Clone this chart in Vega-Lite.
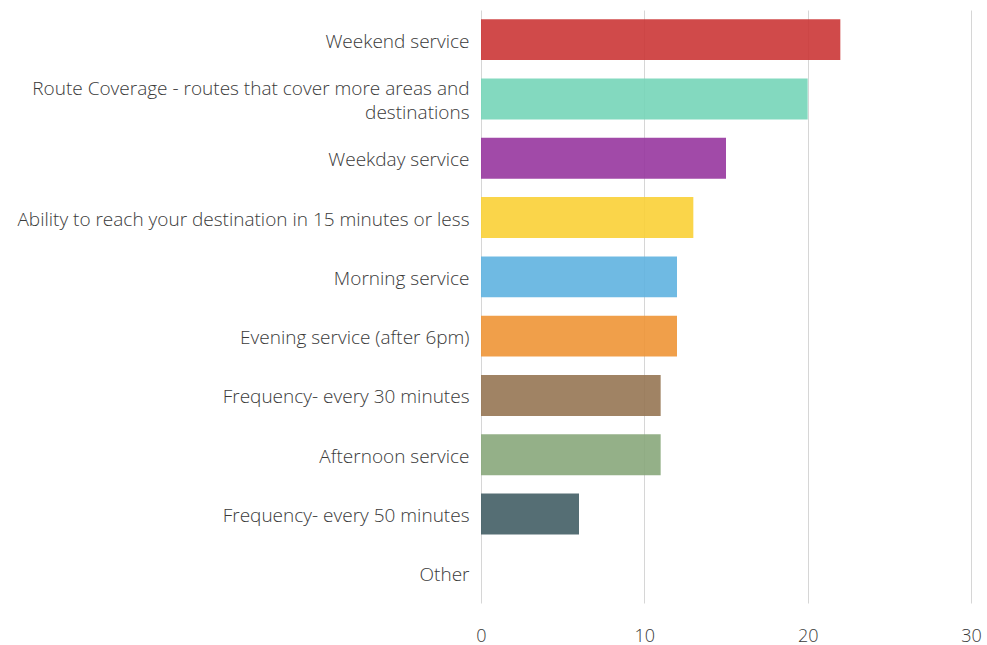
{
  "$schema": "https://vega.github.io/schema/vega-lite/v6.json",
  "autosize": "none",
  "width": 490,
  "height": 593,
  "padding": {"left": 481, "top": 10, "right": 16, "bottom": 42},
  "background": "white",
  "config": {
    "view": {"stroke": null},
    "font": "Open Sans",
    "axis": {"labelFont": "Open Sans", "labelFontSize": 19, "labelColor": "#3a3a3a", "labelFontWeight": 300}
  },
  "data": {
    "values": [
      {"category": "Weekend service", "count": 22, "color": "#cb3636"},
      {"category": "Route Coverage - routes that cover more areas and destinations", "count": 20, "color": "#75d5b8"},
      {"category": "Weekday service", "count": 15, "color": "#97369e"},
      {"category": "Ability to reach your destination in 15 minutes or less", "count": 13, "color": "#f9d036"},
      {"category": "Morning service", "count": 12, "color": "#5fb2e0"},
      {"category": "Evening service (after 6pm)", "count": 12, "color": "#ee9536"},
      {"category": "Frequency- every 30 minutes", "count": 11, "color": "#967653"},
      {"category": "Afternoon service", "count": 11, "color": "#88a77b"},
      {"category": "Frequency- every 50 minutes", "count": 6, "color": "#435e65"},
      {"category": "Other", "count": 0, "color": "#888888"}
    ]
  },
  "mark": {"type": "bar", "opacity": 0.9},
  "encoding": {
    "y": {
      "field": "category",
      "type": "nominal",
      "sort": null,
      "scale": {"paddingInner": 0.31, "paddingOuter": 0.155},
      "axis": {
        "title": null,
        "domain": false,
        "ticks": false,
        "labelPadding": 12,
        "labelLimit": 600,
        "labelLineHeight": 24,
        "labelOffset": {"condition": {"test": "datum.value == 'Route Coverage - routes that cover more areas and destinations'", "value": -10}, "value": 2},
        "labelExpr": "datum.value == 'Route Coverage - routes that cover more areas and destinations' ? ['Route Coverage - routes that cover more areas and', 'destinations'] : datum.value"
      }
    },
    "x": {
      "field": "count",
      "type": "quantitative",
      "scale": {"domain": [0, 30]},
      "axis": {
        "title": null,
        "values": [0, 10, 20, 30],
        "domain": false,
        "ticks": false,
        "grid": true,
        "gridColor": "#d6d6d6",
        "gridWidth": 1,
        "labelFontSize": 18,
        "labelPadding": 24,
        "labelFlush": false
      }
    },
    "color": {"field": "color", "type": "nominal", "scale": null, "legend": null}
  }
}
